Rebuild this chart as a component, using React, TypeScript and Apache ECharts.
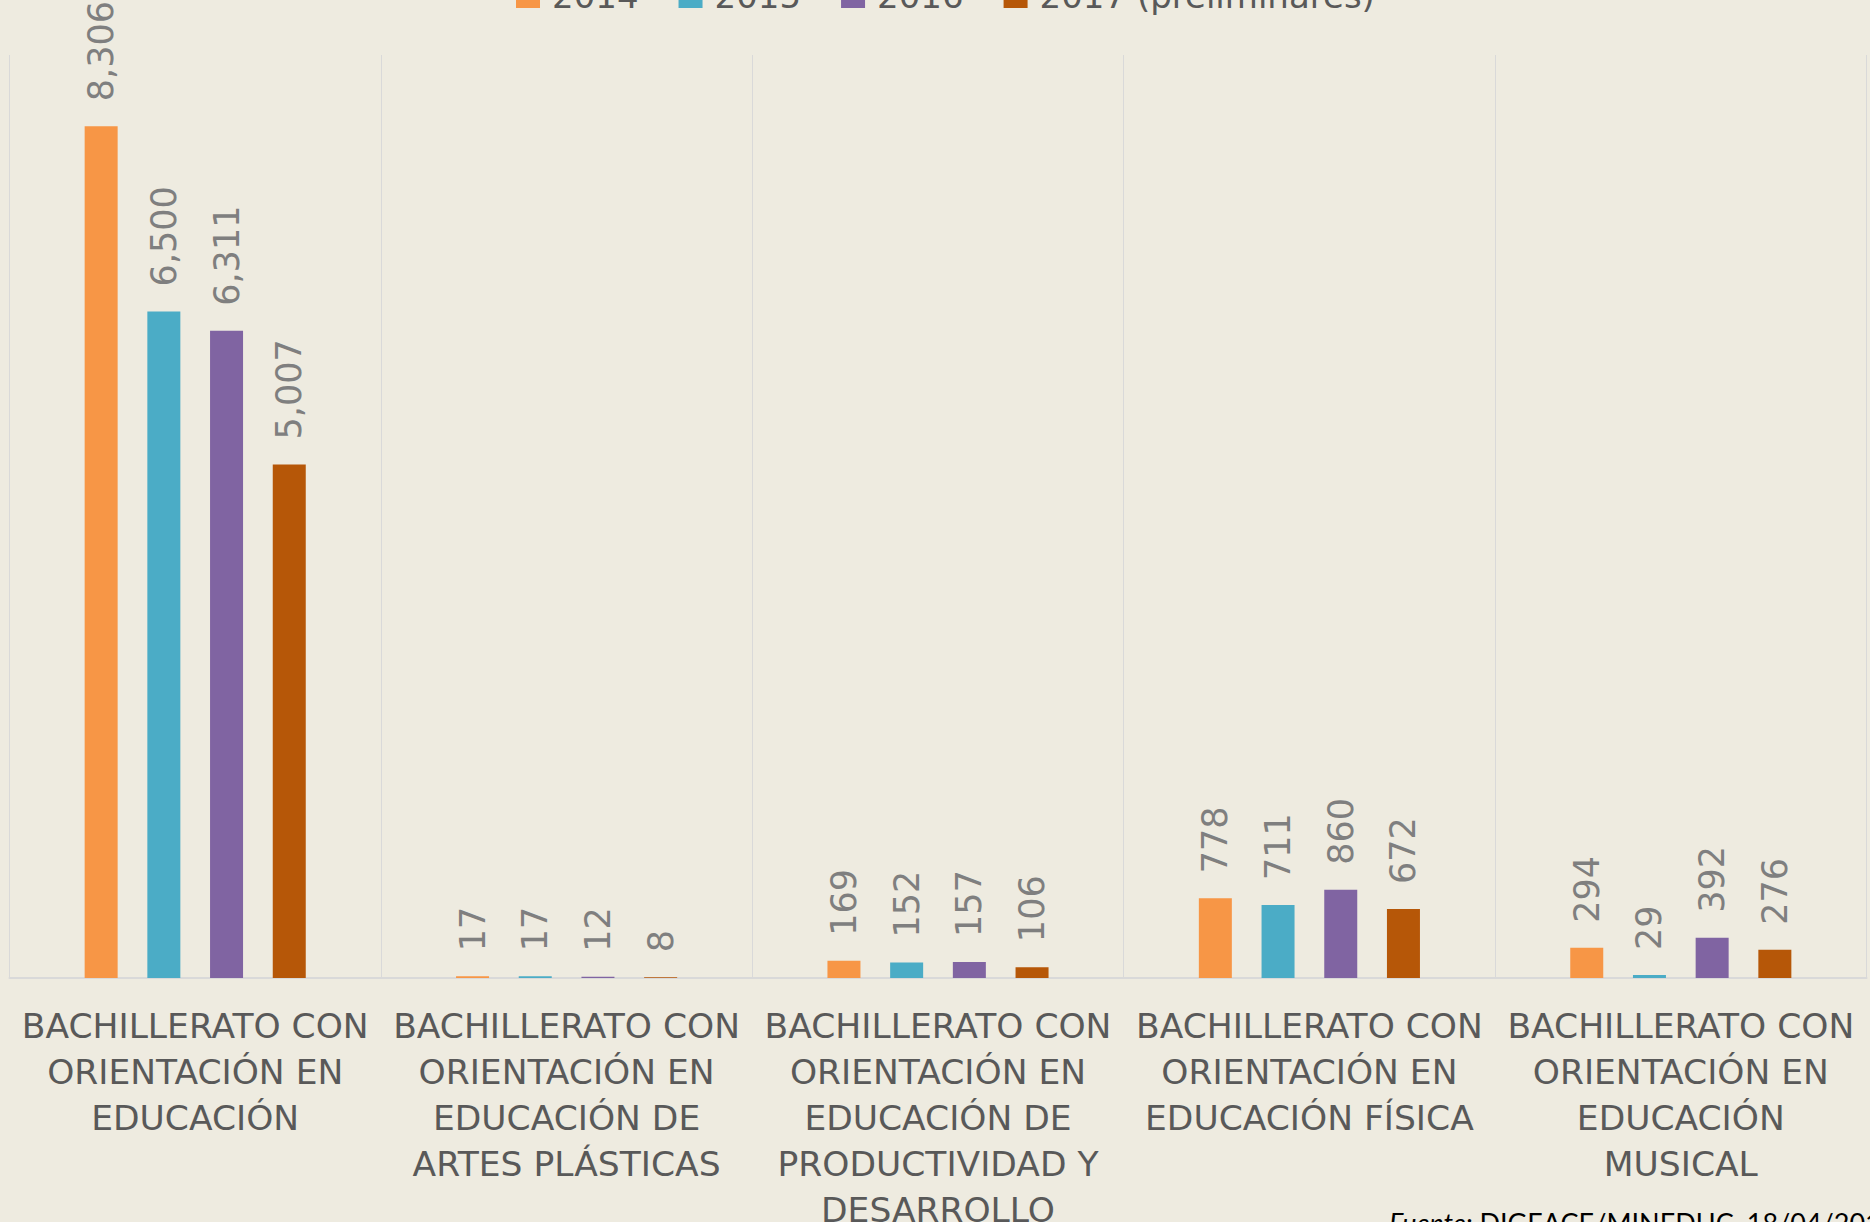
import React, { useEffect, useRef } from "react";
import * as echarts from "echarts";

const categories = [
  "BACHILLERATO CON\nORIENTACIÓN EN\nEDUCACIÓN",
  "BACHILLERATO CON\nORIENTACIÓN EN\nEDUCACIÓN DE\nARTES PLÁSTICAS",
  "BACHILLERATO CON\nORIENTACIÓN EN\nEDUCACIÓN DE\nPRODUCTIVIDAD Y\nDESARROLLO",
  "BACHILLERATO CON\nORIENTACIÓN EN\nEDUCACIÓN FÍSICA",
  "BACHILLERATO CON\nORIENTACIÓN EN\nEDUCACIÓN\nMUSICAL",
];

const seriesNames = ["2014", "2015", "2016", "2017 (preliminares)"];

const values2014 = [8306, 17, 169, 778, 294];
const values2015 = [6500, 17, 152, 711, 29];
const values2016 = [6311, 12, 157, 860, 392];
const values2017 = [5007, 8, 106, 672, 276];

const seriesValues = [values2014, values2015, values2016, values2017];
const seriesColors = ["#F79646", "#4BACC6", "#8064A2", "#B65708"];

const sourceText = "{i|Fuente:} DIGEACE/MINEDUC, 18/04/2018";

export default function App() {
  const ref = useRef<HTMLDivElement>(null);

  useEffect(() => {
    if (!ref.current) return;
    const chart = echarts.init(ref.current, null, { renderer: "svg" });
    chart.setOption({
      animation: false,
      backgroundColor: "#EEEBE0",
      legend: {
        left: 511,
        top: -26,
        itemWidth: 24,
        itemHeight: 24,
        itemGap: 40,
        icon: "rect",
        data: seriesNames,
        textStyle: {
          fontFamily: "DejaVu Sans",
          fontSize: 34,
          color: "#595959",
          padding: [0, 0, 0, 7],
        },
      },
      grid: {
        left: 9.5,
        right: 3.5,
        top: 55,
        bottom: 244,
        containLabel: false,
        outerBoundsMode: "none",
      },
      xAxis: {
        type: "category",
        data: categories,
        axisTick: { show: false },
        axisLine: { lineStyle: { color: "#D9D9D9", width: 2 } },
        splitLine: { show: true, interval: 0, lineStyle: { color: "#D9D9D9", width: 1 } },
        axisLabel: {
          interval: 0,
          fontFamily: "DejaVu Sans",
          fontSize: 34.5,
          color: "#595959",
          lineHeight: 46,
          margin: 25,
          align: "center",
        },
      },
      yAxis: { type: "value", min: 0, max: 9000, show: false, splitLine: { show: false } },
      series: seriesNames.map((name, i) => ({
        name,
        type: "bar",
        data: seriesValues[i],
        barWidth: 33,
        barGap: "90%",
        itemStyle: { color: seriesColors[i] },
        label: {
          show: true,
          position: "top",
          rotate: 90,
          align: "left",
          verticalAlign: "middle",
          distance: 25,
          fontFamily: "DejaVu Sans",
          fontSize: 35,
          color: "#7F7F7F",
          formatter: (p: any) => Number(p.value).toLocaleString("en-US"),
        },
      })),
      graphic: [
        {
          type: "text",
          left: 1389,
          top: 1209,
          style: {
            text: sourceText,
            fontFamily: "Lato",
            fontSize: 27,
            fill: "#000000",
            rich: {
              i: { fontFamily: "Lato", fontSize: 27, fontStyle: "italic", fill: "#000000" },
            },
          },
        },
      ],
    });
    return () => chart.dispose();
  }, []);

  return (
    <div
      ref={ref}
      style={{ position: "fixed", left: 0, top: 0, width: 1870, height: 1222 }}
    />
  );
}
